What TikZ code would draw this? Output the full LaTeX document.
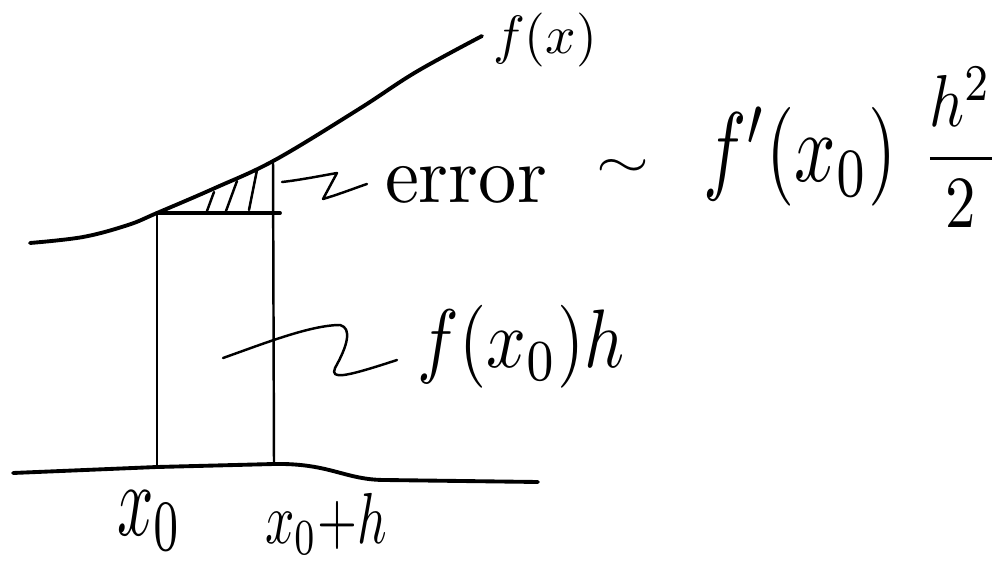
\documentclass[tikz,border=0pt]{standalone}
\usepackage{amsmath}
\usepackage{graphicx}
\begin{document}
\begin{tikzpicture}[x=0.02cm,y=-0.02cm,
  ink/.style={line width=2.2pt,line cap=round,line join=round},
  thin ink/.style={line width=1.4pt,line cap=round,line join=round},
  lbl/.style={inner sep=0pt,outer sep=0pt}]
\useasboundingbox (0,0) rectangle (1003,567);
% curve f(x)
\draw[ink] plot[smooth,tension=0.6] coordinates {(30,243) (83,237) (128,225) (157,213) (215,188) (275,160) (359,109) (416,72) (482,36)};
% rectangle
\coordinate (tl) at (157,213);
\coordinate (tr) at (273,160);
\coordinate (trb) at (280,213);
\coordinate (bl) at (157,467);
\coordinate (br) at (274,464);
\draw[ink] (tl) -- (trb);
\draw[thin ink] (tl) -- (bl);
\draw[thin ink] (tr) -- (br);
% hatching
\draw[thin ink] (207,211) -- (214,192);
\draw[thin ink] (226,211) -- (237,181);
\draw[thin ink] (249,210) -- (257,170);
% axis
\draw[ink] (13,473) -- (bl) -- (br) .. controls (330,463) and (345,480) .. (385,480) -- (538,482);
% labels
\node[lbl] (fx) at (545,40) {\resizebox*{2.08cm}{1.08cm}{$f(x)$}};
\node[lbl] (err) at (466,185) {\resizebox*{3.24cm}{0.74cm}{error}};
\node[lbl] (tilde) at (623,169) {\resizebox*{1.06cm}{0.36cm}{$\sim$}};
\node[lbl] (fp) at (800,157) {\resizebox*{3.88cm}{1.98cm}{$f'(x_0)$}};
\node[lbl] (frac) at (961,147) {\resizebox*{1.54cm}{3.2cm}{$\dfrac{h^2}{2}$}};
\node[lbl] (fxh) at (521,347) {\resizebox*{4.14cm}{1.66cm}{$f(x_0)h$}};
\node[lbl] (x0) at (150,521) {\resizebox*{1.30cm}{1.2cm}{$x_0$}};
\node[lbl] (x0h) at (326,524) {\resizebox*{2.44cm}{1.22cm}{$x_0{+}h$}};
% squiggle leaders
\coordinate (e0) at (282,182);
\coordinate (e1) at (367,184);
\draw[thin ink] (e0) .. controls (300,180) and (320,176) .. (337,173) -- (323,199) .. controls (340,194) and (355,188) .. (e1);
\coordinate (a0) at (223,358);
\coordinate (a1) at (397,360);
\draw[thin ink] (a0) .. controls (260,345) and (310,325) .. (340,325) .. controls (352,328) and (348,345) .. (335,368) .. controls (330,380) and (345,377) .. (a1);
\end{tikzpicture}
\end{document}
